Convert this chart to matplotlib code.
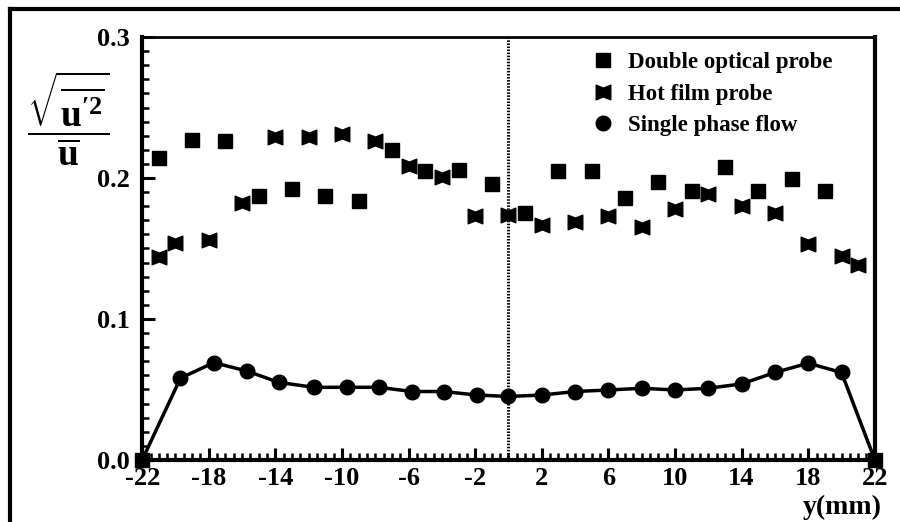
import matplotlib
matplotlib.use('Agg')
import matplotlib.pyplot as plt
from matplotlib.path import Path
from matplotlib.lines import Line2D
from matplotlib.ticker import MultipleLocator, FormatStrFormatter

plt.rcParams['font.family'] = 'Liberation Serif'
plt.rcParams['font.weight'] = 'bold'
plt.rcParams['axes.unicode_minus'] = False
plt.rcParams['mathtext.fontset'] = 'custom'
plt.rcParams['mathtext.rm'] = 'Liberation Serif:bold'
plt.rcParams['mathtext.it'] = 'Liberation Serif:bold'
plt.rcParams['mathtext.bf'] = 'Liberation Serif:bold'

# double optical probe (squares), incl. wall points
optical_pos = [-22, -21, -19, -17, -15, -13, -11, -9, -7, -5, -3, -1,
               1, 3, 5, 7, 9, 11, 13, 15, 17, 19, 22]
optical_val = [0.0, 0.214, 0.227, 0.226, 0.187, 0.192, 0.187, 0.184, 0.220, 0.205,
               0.206, 0.196, 0.175, 0.205, 0.205, 0.186, 0.197, 0.191, 0.208,
               0.191, 0.199, 0.191, 0.0]

# hot film probe (bowties)
hotfilm_pos = [-21, -20, -18, -16, -14, -12, -10, -8, -6, -4, -2, 0,
               2, 4, 6, 8, 10, 12, 14, 16, 18, 20, 21]
hotfilm_val = [0.144, 0.154, 0.156, 0.182, 0.229, 0.229, 0.231, 0.226, 0.2085,
               0.201, 0.173, 0.174, 0.167, 0.169, 0.173, 0.165, 0.178, 0.189,
               0.180, 0.175, 0.153, 0.145, 0.138]

# single phase flow (circles + line, line ends at walls)
single_pos = [-22, -19.7, -17.7, -15.7, -13.8, -11.7, -9.7, -7.8, -5.8, -3.9, -1.9, 0,
              2, 4, 6, 8, 10, 12, 14, 16, 18, 20, 22]
single_val = [0.0, 0.058, 0.069, 0.063, 0.055, 0.0515, 0.0515, 0.0515, 0.0485, 0.0485,
              0.046, 0.045, 0.046, 0.0485, 0.0496, 0.0508, 0.0496, 0.0508, 0.0539,
              0.062, 0.0686, 0.062, 0.0]

x_ticks = list(range(-22, 23, 4))
y_ticks = [0.0, 0.1, 0.2, 0.3]

bowtie = Path([(-1, -1), (0, -0.6), (1, -1), (1, 1), (0, 0.6), (-1, 1), (-1, -1)],
              [Path.MOVETO, Path.LINETO, Path.LINETO, Path.LINETO, Path.LINETO,
               Path.LINETO, Path.CLOSEPOLY])

fig = plt.figure(figsize=(9, 5.22), dpi=100)
ax = fig.add_axes([0.158, 0.119, 0.814, 0.81])

ax.axvline(0, color='k', lw=2.2, ls=(0, (0.5, 0.5)), zorder=1)

ax.plot(single_pos, single_val, '-', color='k', lw=2.5, marker='o', ms=10.5,
        markevery=list(range(1, len(single_pos) - 1)), zorder=3)
ax.plot(optical_pos, optical_val, 's', color='k', ms=10, clip_on=False, zorder=4)
ax.plot(hotfilm_pos, hotfilm_val, ls='none', marker=bowtie, color='k', ms=10.5, zorder=4)

ax.set_xlim(-22, 22)
ax.set_ylim(0, 0.3)
ax.set_xticks(x_ticks)
ax.set_yticks(y_ticks)
ax.xaxis.set_minor_locator(MultipleLocator(0.5))
ax.yaxis.set_minor_locator(MultipleLocator(0.01))
ax.yaxis.set_major_formatter(FormatStrFormatter('%.1f'))

ax.tick_params(which='major', direction='in', length=9, width=2.2, labelsize=19)
ax.tick_params(which='minor', direction='in', length=5, width=1.8)
ax.tick_params(axis='x', which='both', top=False, pad=5)
ax.tick_params(axis='y', which='both', right=False, pad=9)
for s in ['left', 'bottom', 'right']:
    ax.spines[s].set_linewidth(3)
ax.spines['top'].set_linewidth(2)

handles = [Line2D([], [], ls='none', marker='s', color='k', ms=10),
           Line2D([], [], ls='none', marker=bowtie, color='k', ms=10.5),
           Line2D([], [], ls='none', marker='o', color='k', ms=10.5)]
labels = ['Double optical probe', 'Hot film probe', 'Single phase flow']
ax.legend(handles, labels, frameon=False,
          loc='upper left', bbox_to_anchor=(0.66, 0.9), bbox_transform=fig.transFigure,
          fontsize=16.5, handlelength=0.8, handletextpad=0.7, labelspacing=0.45,
          borderpad=0, borderaxespad=0)

fig.text(0.98, 0.004, 'y(mm)', ha='right', va='bottom', fontsize=20, fontweight='bold')
fig.text(0.076, 0.772,
         r"$\dfrac{\sqrt{\overline{\mathrm{u}^{\prime 2}}}}{\overline{\mathrm{u}}}$",
         ha='center', va='center', fontsize=27)

# outer frame (left and top edges)
fig.add_artist(Line2D([0.011, 0.011], [0, 0.982], transform=fig.transFigure,
                      color='k', lw=3))
fig.add_artist(Line2D([0.011, 1.0], [0.982, 0.982], transform=fig.transFigure,
                      color='k', lw=3))

fig.savefig('out.png', dpi=100)
